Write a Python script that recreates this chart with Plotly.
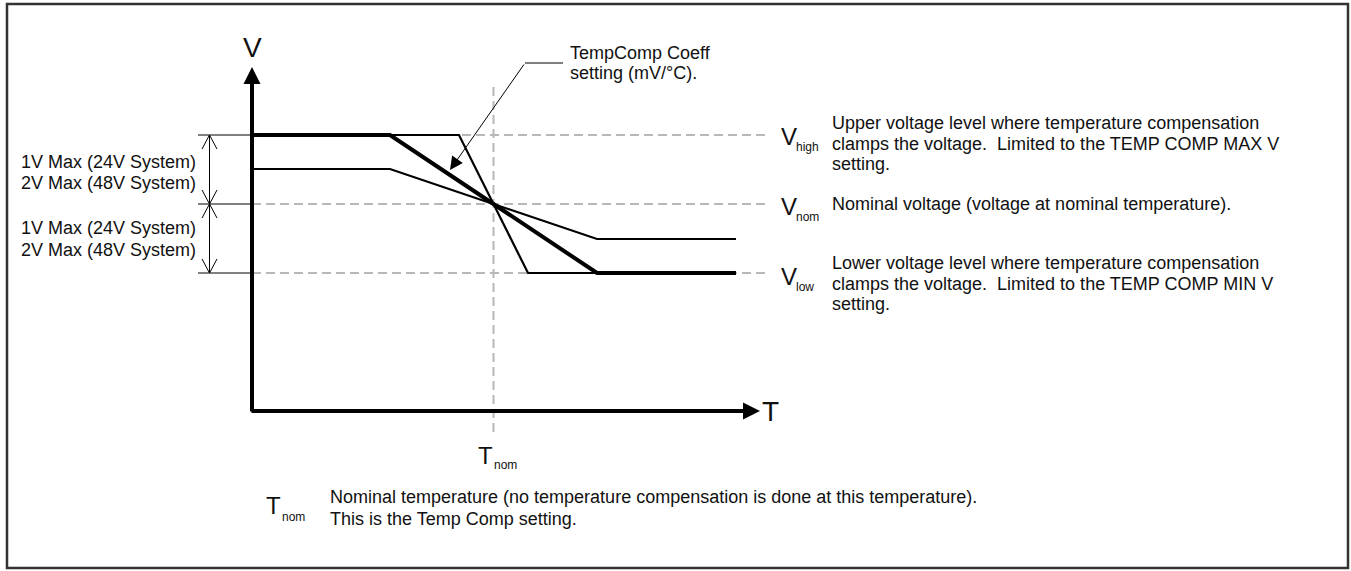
import plotly.graph_objects as go

# ---------------- schematic data (T and V in drawing units; Tnom = 0, Vnom = 0) -------------
T_AXIS = -241.5          # position of the V axis on the T scale
V_AXIS = -207            # position of the T axis on the V scale
V_HIGH, V_NOM, V_LOW = 69, 0, -69
T_NOM = 0

curve_thick_T = [-241.5, -103.5, 103.5, 242.5]
curve_thick_V = [69, 69, -69, -69]
curve_steep_T = [-241.5, -34.5, 34.5, 242.5]
curve_steep_V = [69, 69, -69, -69]
curve_shallow_T = [-241.5, -103.5, 103.5, 242.5]
curve_shallow_V = [35, 35, -35, -35]

left_label_lines = ["1V Max (24V System)", "2V Max (48V System)"]
high_lines = ["Upper voltage level where temperature compensation",
              "clamps the voltage.  Limited to the TEMP COMP MAX V",
              "setting."]
nom_lines = ["Nominal voltage (voltage at nominal temperature)."]
low_lines = ["Lower voltage level where temperature compensation",
             "clamps the voltage.  Limited to the TEMP COMP MIN V",
             "setting."]
coeff_lines = ["TempComp Coeff", "setting (mV/°C)."]
tnom_lines = ["Nominal temperature (no temperature compensation is done at this temperature).",
              "This is the Temp Comp setting."]

FONT = "Arial, Liberation Sans, sans-serif"
TXT = "#111111"
GRAY = "#b8b8b8"
FS = 18
W, H = 1351, 571
X_RANGE = [-493.5, 857.5]
Y_RANGE = [-367, 204]
T_DIM = -284          # dimension line position
HW, HL = 7.5, 14      # open arrowhead half width / length

fig = go.Figure()


def line(xs, ys, color="black", width=1, dash=None):
    fig.add_trace(go.Scatter(x=xs, y=ys, mode="lines", hoverinfo="skip",
                             line=dict(color=color, width=width, dash=dash)))


# dashed reference lines and solid extension ticks
for v in (V_HIGH, V_NOM, V_LOW):
    line([T_AXIS, 276.5], [v, v], GRAY, 2, "9px,5px")
    line([-295.5, T_AXIS], [v, v], "black", 1)
line([T_NOM, T_NOM], [117, -232], GRAY, 2, "9px,5px")

# dimension line with open arrowheads
line([T_DIM, T_DIM], [V_HIGH, V_LOW], "black", 1)
for tip, d in ((V_HIGH, -1), (V_NOM, 1), (V_NOM, -1), (V_LOW, 1)):
    line([T_DIM - HW, T_DIM, T_DIM + HW], [tip + d * HL, tip, tip + d * HL], "black", 1)

# curves
line(curve_steep_T, curve_steep_V, "black", 2.2)
line(curve_shallow_T, curve_shallow_V, "black", 2.2)
line(curve_thick_T, curve_thick_V, "black", 4)

# coefficient leader horizontal part
line([69.5, 31.5], [141, 141], "black", 1)

ann = []
# axes with arrows
ann.append(dict(x=T_AXIS, y=137, ax=T_AXIS, ay=V_AXIS - 2, axref="x", ayref="y",
                showarrow=True, arrowhead=2, arrowwidth=4, arrowsize=0.85, arrowcolor="black",
                text="", standoff=0, startstandoff=0))
ann.append(dict(x=266.5, y=V_AXIS, ax=T_AXIS - 2, ay=V_AXIS, axref="x", ayref="y",
                showarrow=True, arrowhead=2, arrowwidth=4, arrowsize=0.85, arrowcolor="black",
                text="", standoff=0, startstandoff=0))
# coefficient arrow
ann.append(dict(x=-43.5, y=34, ax=31.5, ay=141, axref="x", ayref="y",
                showarrow=True, arrowhead=2, arrowwidth=1, arrowsize=2.6, arrowcolor="black",
                text="", standoff=0, startstandoff=0))


def txt(x, y, s, size=FS, xanchor="left", yanchor="middle"):
    ann.append(dict(x=x, y=y, text=s, showarrow=False, xanchor=xanchor, yanchor=yanchor,
                    font=dict(family=FONT, size=size, color=TXT), xref="x", yref="y"))


# axis letters
txt(T_AXIS, 157, "V", size=28, xanchor="center")
txt(276.5, V_AXIS, "T", size=28, xanchor="center")

# left labels
for i, s in enumerate(left_label_lines):
    txt(-296, 42.5 - 21.5 * i, s, xanchor="right")
    txt(-296, -24 - 21.5 * i, s, xanchor="right")

# right V labels
for (sub, vy) in (("high", 67.5), ("nom", -2), ("low", -72.5)):
    txt(285.5, vy, "V", size=24)
    txt(300.5, vy - 10.5, sub, size=12)

X_TXT = 336.5
for i, s in enumerate(high_lines):
    txt(X_TXT, 81 - 20.5 * i, s)
for i, s in enumerate(nom_lines):
    txt(X_TXT, 0, s)
for i, s in enumerate(low_lines):
    txt(X_TXT, -59 - 20.5 * i, s)

for i, s in enumerate(coeff_lines):
    txt(74.5, 151 - 19.5 * i, s)

# Tnom under axis
txt(-17.5, -251, "T", size=24)
txt(-1.5, -261, "nom", size=12)

# bottom legend
txt(-229.5, -301, "T", size=24)
txt(-213.5, -313, "nom", size=12)
for i, s in enumerate(tnom_lines):
    txt(-166, -293 - 21.5 * i, s)

fig.update_layout(
    width=W, height=H, margin=dict(l=0, r=0, t=0, b=0),
    paper_bgcolor="white", plot_bgcolor="white", showlegend=False,
    xaxis=dict(range=X_RANGE, visible=False, fixedrange=True),
    yaxis=dict(range=Y_RANGE, visible=False, fixedrange=True),
    annotations=ann,
    shapes=[dict(type="rect", xref="x", yref="y", x0=-486.5, x1=854.5, y0=200, y1=-364,
                 line=dict(color="#333333", width=2.5))],
)

fig.write_html("out.html", config={"displayModeBar": False},
               post_script="document.body.style.margin='0';")
